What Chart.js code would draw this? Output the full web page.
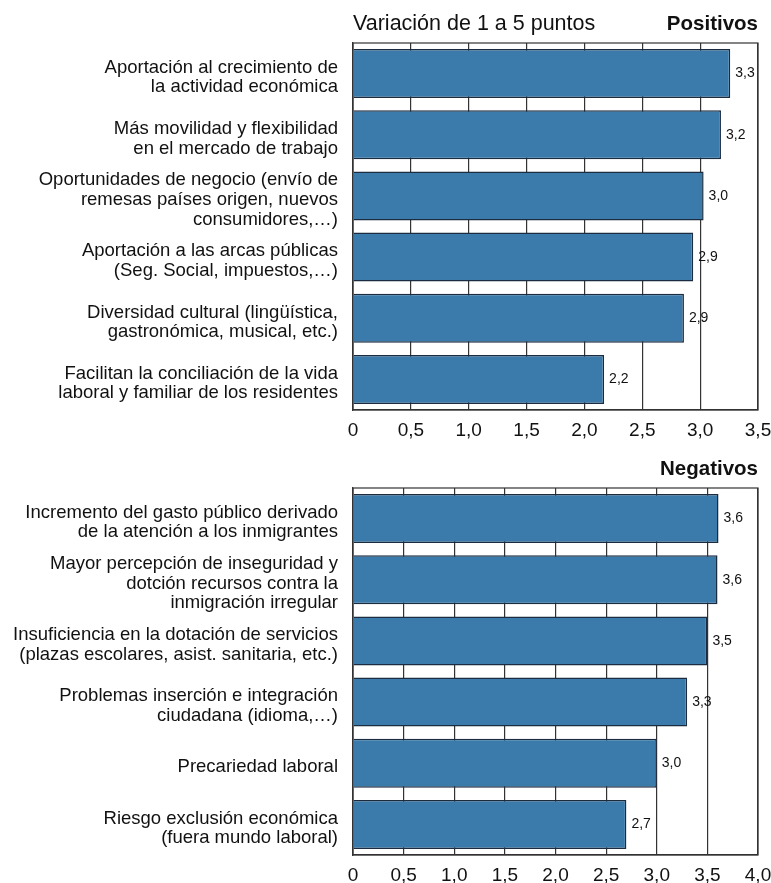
<!DOCTYPE html>
<html>
<head>
<meta charset="utf-8">
<script src="https://cdn.jsdelivr.net/npm/chart.js@4.4.1/dist/chart.umd.min.js"></script>
<style>
  html, body { margin: 0; padding: 0; background: #fff; overflow: hidden; height: 883px; }
  .box { position: relative; width: 771px; height: 445px; }
  canvas { display: block; }
</style>
</head>
<body>
<div class="box"><canvas id="positivos"></canvas></div>
<div class="box"><canvas id="negativos"></canvas></div>
<script>
const subtitle = "Variación de 1 a 5 puntos";

const positivosLabels = [
    ["Aportación al crecimiento de", "la actividad económica"],
    ["Más movilidad y flexibilidad", "en el mercado de trabajo"],
    ["Oportunidades de negocio (envío de", "remesas países origen, nuevos", "consumidores,…)"],
    ["Aportación a las arcas públicas", "(Seg. Social, impuestos,…)"],
    ["Diversidad cultural (lingüística,", "gastronómica, musical, etc.)"],
    ["Facilitan la conciliación de la vida", "laboral y familiar de los residentes"]
];
const positivosValues = [3.26, 3.18, 3.03, 2.94, 2.86, 2.17];
const positivosMax = 3.5;

const negativosLabels = [
    ["Incremento del gasto público derivado", "de la atención a los inmigrantes"],
    ["Mayor percepción de inseguridad y", "dotción recursos contra la", "inmigración irregular"],
    ["Insuficiencia en la dotación de servicios", "(plazas escolares, asist. sanitaria, etc.)"],
    ["Problemas inserción e integración", "ciudadana (idioma,…)"],
    ["Precariedad laboral"],
    ["Riesgo exclusión económica", "(fuera mundo laboral)"]
];
const negativosValues = [3.61, 3.6, 3.5, 3.3, 3.0, 2.7];
const negativosMax = 4.0;

const FONT = "'Liberation Sans', Arial, Helvetica, sans-serif";
const GRID = "#333";

function fmt(v) {
    return v === 0 ? "0" : v.toFixed(1).replace(".", ",");
}

// header texts, frame around the plot and value labels next to bars
const decorations = {
    id: "decorations",
    afterDraw(chart, args, opts) {
        const { ctx, chartArea } = chart;
        ctx.save();
        ctx.strokeStyle = GRID;
        ctx.lineWidth = 1.2;
        ctx.strokeRect(chartArea.left, chartArea.top, chartArea.right - chartArea.left, chartArea.bottom - chartArea.top);

        ctx.fillStyle = "#111";
        ctx.textBaseline = "middle";
        if (opts.subtitle) {
            ctx.font = "21.5px " + FONT;
            ctx.textAlign = "left";
            ctx.fillText(opts.subtitle, chartArea.left, 24);
        }
        ctx.font = "bold 20.5px " + FONT;
        ctx.textAlign = "right";
        ctx.fillText(opts.title, chartArea.right, 24);

        ctx.font = "14px " + FONT;
        ctx.textAlign = "left";
        const meta = chart.getDatasetMeta(0);
        meta.data.forEach((bar, i) => {
            const v = chart.data.datasets[0].data[i];
            ctx.fillText(fmt(v), bar.x + 5, bar.y);
        });
        ctx.restore();
    }
};

function makeChart(id, labels, values, max, title, sub) {
    new Chart(document.getElementById(id), {
        type: "bar",
        data: {
            labels: labels,
            datasets: [{
                data: values,
                backgroundColor: "#3b7bab",
                borderColor: "#1b2c40",
                borderWidth: 1.5,
                barPercentage: 0.8,
                categoryPercentage: 1.0
            }]
        },
        options: {
            indexAxis: "y",
            responsive: true,
            maintainAspectRatio: false,
            animation: false,
            layout: {
                padding: { top: 43, right: 13, left: 0, bottom: 5 }
            },
            scales: {
                x: {
                    min: 0,
                    max: max,
                    ticks: {
                        stepSize: 0.5,
                        padding: 9,
                        color: "#111",
                        font: { family: FONT, size: 19 },
                        callback: (v) => fmt(v)
                    },
                    grid: { color: GRID, lineWidth: 1.2, drawTicks: false },
                    border: { color: GRID, width: 1.2 },
                    afterFit: (scale) => {
                        scale.height = 30;
                        scale.paddingLeft = 0;
                        scale.paddingRight = 0;
                    }
                },
                y: {
                    ticks: {
                        autoSkip: false,
                        padding: 15,
                        labelOffset: 4,
                        color: "#111",
                        font: { family: FONT, size: 18.5, lineHeight: 1.06 }
                    },
                    grid: { display: false, drawTicks: false },
                    border: { color: GRID, width: 1.2 },
                    afterFit: (scale) => { scale.width = 353; }
                }
            },
            plugins: {
                legend: { display: false },
                tooltip: { enabled: false },
                decorations: { title: title, subtitle: sub }
            }
        },
        plugins: [decorations]
    });
}

makeChart("positivos", positivosLabels, positivosValues, positivosMax, "Positivos", subtitle);
makeChart("negativos", negativosLabels, negativosValues, negativosMax, "Negativos", null);
</script>
</body>
</html>
